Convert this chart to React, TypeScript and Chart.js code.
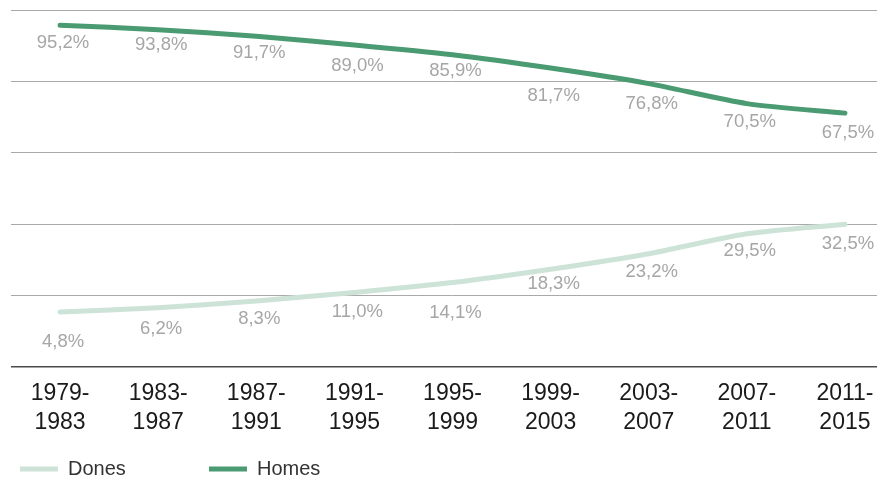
import React, { useEffect, useRef } from "react";
import { Chart, registerables } from "chart.js";

Chart.register(...registerables);

const categories: string[][] = [
  ["1979-", "1983"],
  ["1983-", "1987"],
  ["1987-", "1991"],
  ["1991-", "1995"],
  ["1995-", "1999"],
  ["1999-", "2003"],
  ["2003-", "2007"],
  ["2007-", "2011"],
  ["2011-", "2015"],
];
const dones: number[] = [4.8, 6.2, 8.3, 11.0, 14.1, 18.3, 23.2, 29.5, 32.5];
const homes: number[] = [95.2, 93.8, 91.7, 89.0, 85.9, 81.7, 76.8, 70.5, 67.5];
const seriesNames: string[] = ["Dones", "Homes"];

// styling: per-point vertical offsets of the value labels (px)
const donesLabelOffsets = [29, 20, 17, 18, 29, 14, 17, 16, 19];
const homesLabelOffsets = [17, 14, 16, 20, 15, 27, 19, 17, 19];

const FONT = "'Liberation Sans', Arial, Helvetica, sans-serif";
const DONES_COLOR = "#cde3d8";
const HOMES_COLOR = "#4a9a72";

const fmt = (v: number) => v.toFixed(1).replace(".", ",") + "%";

const valueLabels = {
  id: "valueLabels",
  afterDatasetsDraw(chart: any) {
    const ctx = chart.ctx;
    ctx.save();
    ctx.font = `18.5px ${FONT}`;
    ctx.fillStyle = "#a6a6a6";
    ctx.textAlign = "center";
    ctx.textBaseline = "middle";
    chart.data.datasets.forEach((ds: any, di: number) => {
      const meta = chart.getDatasetMeta(di);
      const offs = di === 0 ? donesLabelOffsets : homesLabelOffsets;
      meta.data.forEach((pt: any, i: number) => {
        ctx.fillText(fmt(ds.data[i]), pt.x + 3, pt.y + offs[i] + 1);
      });
    });
    ctx.restore();
  },
};

const customLegend = {
  id: "customLegend",
  afterDraw(chart: any) {
    const ctx = chart.ctx;
    ctx.save();
    const y = 469;
    const items = [
      { x: 20, color: DONES_COLOR, label: seriesNames[0] },
      { x: 209, color: HOMES_COLOR, label: seriesNames[1] },
    ];
    ctx.font = `20px ${FONT}`;
    ctx.textBaseline = "middle";
    ctx.textAlign = "left";
    items.forEach((it) => {
      ctx.fillStyle = it.color;
      ctx.fillRect(it.x, y - 2.5, 38, 5);
      ctx.fillStyle = "#333333";
      ctx.fillText(it.label, it.x + 48, y);
    });
    ctx.restore();
  },
};

export default function App() {
  const ref = useRef<HTMLCanvasElement | null>(null);

  useEffect(() => {
    if (!ref.current) return;
    const chart = new Chart(ref.current, {
      type: "line",
      data: {
        labels: categories,
        datasets: [
          {
            label: seriesNames[0],
            data: dones,
            borderColor: DONES_COLOR,
            backgroundColor: DONES_COLOR,
            borderWidth: 5,
            pointRadius: 0,
            tension: 0.25,
            borderCapStyle: "round",
            borderJoinStyle: "round",
          },
          {
            label: seriesNames[1],
            data: homes,
            borderColor: HOMES_COLOR,
            backgroundColor: HOMES_COLOR,
            borderWidth: 5,
            pointRadius: 0,
            tension: 0.25,
            borderCapStyle: "round",
            borderJoinStyle: "round",
          },
        ],
      },
      options: {
        animation: false,
        responsive: false,
        maintainAspectRatio: false,
        layout: { padding: { left: 11, top: 10, right: 0, bottom: 0 } },
        plugins: {
          legend: { display: false },
          tooltip: { enabled: false },
        },
        scales: {
          x: {
            offset: true,
            grid: { display: false, drawTicks: false },
            border: { display: false },
            ticks: {
              color: "#1a1a1a",
              font: { family: FONT, size: 23, lineHeight: 1.27 },
              padding: 12,
              maxRotation: 0,
              autoSkip: false,
            },
            afterFit: (s: any) => {
              s.height = 116;
            },
          },
          y: {
            min: -12.5,
            max: 100,
            ticks: { display: false, stepSize: 22.5 },
            border: { display: false },
            grid: {
              drawTicks: false,
              color: (c: any) =>
                Math.abs(c.tick.value + 12.5) < 0.01 ? "#4a4a4a" : "#a9a9a9",
              lineWidth: (c: any) =>
                Math.abs(c.tick.value + 12.5) < 0.01 ? 1.6 : 1,
            },
            afterFit: (s: any) => {
              s.width = 0;
            },
          },
        },
      },
      plugins: [valueLabels, customLegend],
    });
    return () => chart.destroy();
  }, []);

  return (
    <div
      style={{
        position: "fixed",
        left: 0,
        top: 0,
        width: 877,
        height: 483,
        overflow: "hidden",
        background: "#ffffff",
      }}
    >
      <canvas ref={ref} width={894} height={483} style={{ display: "block", width: 894, height: 483 }} />
    </div>
  );
}
